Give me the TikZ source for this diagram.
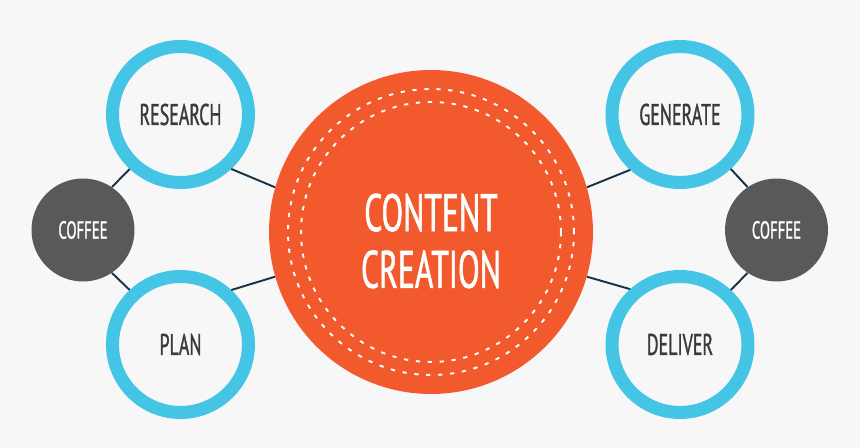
\documentclass[tikz,border=0pt]{standalone}
\usepackage{fontspec}
\setmainfont[FakeStretch=0.6,FakeBold=1]{PT Sans}
\usepackage{tikz}
\usetikzlibrary{positioning}

\definecolor{bgcol}{HTML}{F7F7F7}
\definecolor{ringcol}{HTML}{45C5E6}
\definecolor{hubcol}{HTML}{F25A2E}
\definecolor{coffeecol}{HTML}{59595B}
\definecolor{linkcol}{HTML}{163447}
\definecolor{textcol}{HTML}{3A3A3A}

\begin{document}
\begin{tikzpicture}[x=0.02cm,y=-0.02cm,
	every node/.style={circle,inner sep=0pt},
	ring/.style={draw=ringcol,line width=7.4pt,minimum size=2.72cm,text=textcol,font=\fontsize{17}{19}\selectfont},
	coffee/.style={fill=coffeecol,minimum size=2.06cm,text=white,font=\fontsize{14}{16}\selectfont},
	hub/.style={fill=hubcol,minimum size=6.48cm},
	link/.style={draw=linkcol,line width=1.1pt},
	stitch/.style={draw=white,line width=1.1pt,dash pattern=on 2.4pt off 4.4pt}]
	\useasboundingbox[fill=bgcol] (0,0) rectangle (860,448);

	%centre
	\node [hub] (hub) at (431,232) {};
	\draw[stitch] (hub.center) circle (2.86cm);
	\draw[stitch] (hub.center) circle (2.6cm);
	\node [align=center,text=white,font=\fontsize{30}{32.3}\selectfont] (title) at (431,241) {CONTENT\\CREATION};

	%left nodes
	\node [ring] (research) at (180.5,114.5) {RESEARCH};
	\node [ring] (plan) at (180.5,344.5) {PLAN};
	\node [coffee] (coffee1) at (83,230) {COFFEE};

	%right nodes
	\node [ring] (generate) at (680,114.5) {GENERATE};
	\node [ring] (deliver) at (680,344.5) {DELIVER};
	\node [coffee] (coffee2) at (776.5,230) {COFFEE};

	%edges
	\draw[link] (research.-47.7) -- (hub.164);
	\draw[link] (research.-133) -- (coffee1.56);
	\draw[link] (plan.47.7) -- (hub.196);
	\draw[link] (plan.133) -- (coffee1.-56);
	\draw[link] (generate.-132.3) -- (hub.16);
	\draw[link] (generate.-47) -- (coffee2.124);
	\draw[link] (deliver.132.3) -- (hub.-16);
	\draw[link] (deliver.47) -- (coffee2.-124);
\end{tikzpicture}
\end{document}
